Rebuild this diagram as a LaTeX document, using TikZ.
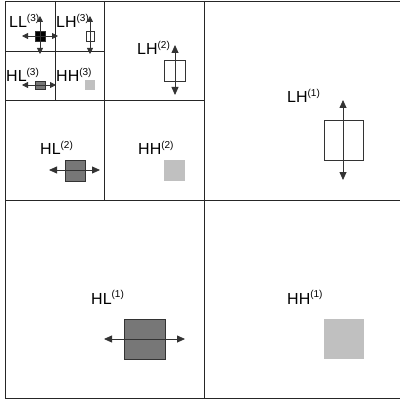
\documentclass[tikz,border=0pt]{standalone}
\usepackage{fontspec}
\setmainfont{Liberation Sans}
\usetikzlibrary{arrows.meta}
\newcommand{\sblbl}[2]{#1\raisebox{0.42em}{\fontsize{10}{12}\selectfont(#2)}}
\definecolor{edgec}{HTML}{333333}
\definecolor{darkfill}{HTML}{777777}
\definecolor{lightfill}{HTML}{C0C0C0}
\tikzset{
  gridline/.style={draw=black!85, line width=0.9pt},
  lbl/.style={anchor=base west, inner sep=0pt, font=\fontsize{16}{19}\selectfont},
  box/.style={draw=edgec, line width=0.7pt, inner sep=0pt, outer sep=0pt},
  blackbox/.style={box, fill=black},
  whitebox/.style={box, fill=white},
  darkbox/.style={box, fill=darkfill},
  lightbox/.style={fill=lightfill, inner sep=0pt, outer sep=0pt},
  bigarr/.style={draw=edgec, line width=0.8pt, {Triangle[length=8pt,width=7pt]}-{Triangle[length=8pt,width=7pt]}},
  smallarr/.style={draw=edgec, line width=0.8pt, {Triangle[length=6pt,width=6pt]}-{Triangle[length=6pt,width=6pt]}}
}
\begin{document}
\begin{tikzpicture}[x=1pt,y=-1pt]
\useasboundingbox (0,0) rectangle (399,403);
% grid
\coordinate (TL) at (5,1);
\coordinate (TR) at (400,1);
\coordinate (BL) at (5,398);
\coordinate (BR) at (400,398);
\draw[gridline] (TR) -- (TL) -- (BL) -- (BR);
\coordinate (m1t) at (204.5,1);
\coordinate (m1b) at (204.5,398);
\coordinate (h1l) at (5,200);
\coordinate (h1r) at (400,200);
\draw[gridline] (m1t) -- (m1b);
\draw[gridline] (h1l) -- (h1r);
\coordinate (m2t) at (104.5,1);
\coordinate (m2b) at (104.5,200);
\coordinate (h2l) at (5,100);
\coordinate (h2r) at (204.5,100);
\draw[gridline] (m2t) -- (m2b);
\draw[gridline] (h2l) -- (h2r);
\coordinate (m3t) at (55,1);
\coordinate (m3b) at (55,100);
\coordinate (h3l) at (5,51);
\coordinate (h3r) at (104.5,51);
\draw[gridline] (m3t) -- (m3b);
\draw[gridline] (h3l) -- (h3r);

% level 3
\node[lbl] (tLL3) at (9,28) {\sblbl{LL}{3}};
\node[blackbox, minimum width=10pt, minimum height=10pt] (bLL3) at (40,36) {};
\coordinate (aLL3l) at (22,36); \coordinate (aLL3r) at (58,36);
\coordinate (aLL3t) at (40,16); \coordinate (aLL3b) at (40,54);
\draw[smallarr] (aLL3l) -- (aLL3r);
\draw[smallarr] (aLL3t) -- (aLL3b);

\node[lbl] (tLH3) at (56,28) {\sblbl{LH}{3}};
\node[whitebox, minimum width=8pt, minimum height=10pt] (bLH3) at (90,36) {};
\coordinate (aLH3t) at (90,16); \coordinate (aLH3b) at (90,54);
\draw[smallarr] (aLH3t) -- (aLH3b);

\node[lbl] (tHL3) at (6,82) {\sblbl{HL}{3}};
\node[darkbox, minimum width=10pt, minimum height=8pt] (bHL3) at (40,85) {};
\coordinate (aHL3l) at (22,85); \coordinate (aHL3r) at (56,85);
\draw[smallarr] (aHL3l) -- (aHL3r);

\node[lbl] (tHH3) at (56,82) {\sblbl{HH}{3}};
\node[lightbox, minimum width=10pt, minimum height=10pt] (bHH3) at (90,85) {};

% level 2
\node[lbl] (tLH2) at (137,55) {\sblbl{LH}{2}};
\node[whitebox, minimum width=21pt, minimum height=21pt] (bLH2) at (174.5,70.5) {};
\coordinate (aLH2t) at (175,45); \coordinate (aLH2b) at (175,95);
\draw[bigarr] (aLH2t) -- (aLH2b);

\node[lbl] (tHL2) at (40,155) {\sblbl{HL}{2}};
\node[darkbox, minimum width=20pt, minimum height=21pt] (bHL2) at (75,170.5) {};
\coordinate (aHL2l) at (49,170); \coordinate (aHL2r) at (100,170);
\draw[bigarr] (aHL2l) -- (aHL2r);

\node[lbl] (tHH2) at (138,155) {\sblbl{HH}{2}};
\node[lightbox, minimum width=21pt, minimum height=21pt] (bHH2) at (174.5,170.5) {};

% level 1
\node[lbl] (tLH1) at (287,103) {\sblbl{LH}{1}};
\node[whitebox, minimum width=39pt, minimum height=40pt] (bLH1) at (343.5,140) {};
\coordinate (aLH1t) at (343,100); \coordinate (aLH1b) at (343,180);
\draw[bigarr] (aLH1t) -- (aLH1b);

\node[lbl] (tHL1) at (91,304) {\sblbl{HL}{1}};
\node[darkbox, minimum width=41pt, minimum height=40pt] (bHL1) at (144.5,339) {};
\coordinate (aHL1l) at (104,339); \coordinate (aHL1r) at (185,339);
\draw[bigarr] (aHL1l) -- (aHL1r);

\node[lbl] (tHH1) at (287,304) {\sblbl{HH}{1}};
\node[lightbox, minimum width=40pt, minimum height=40pt] (bHH1) at (344,339) {};
\end{tikzpicture}
\end{document}
